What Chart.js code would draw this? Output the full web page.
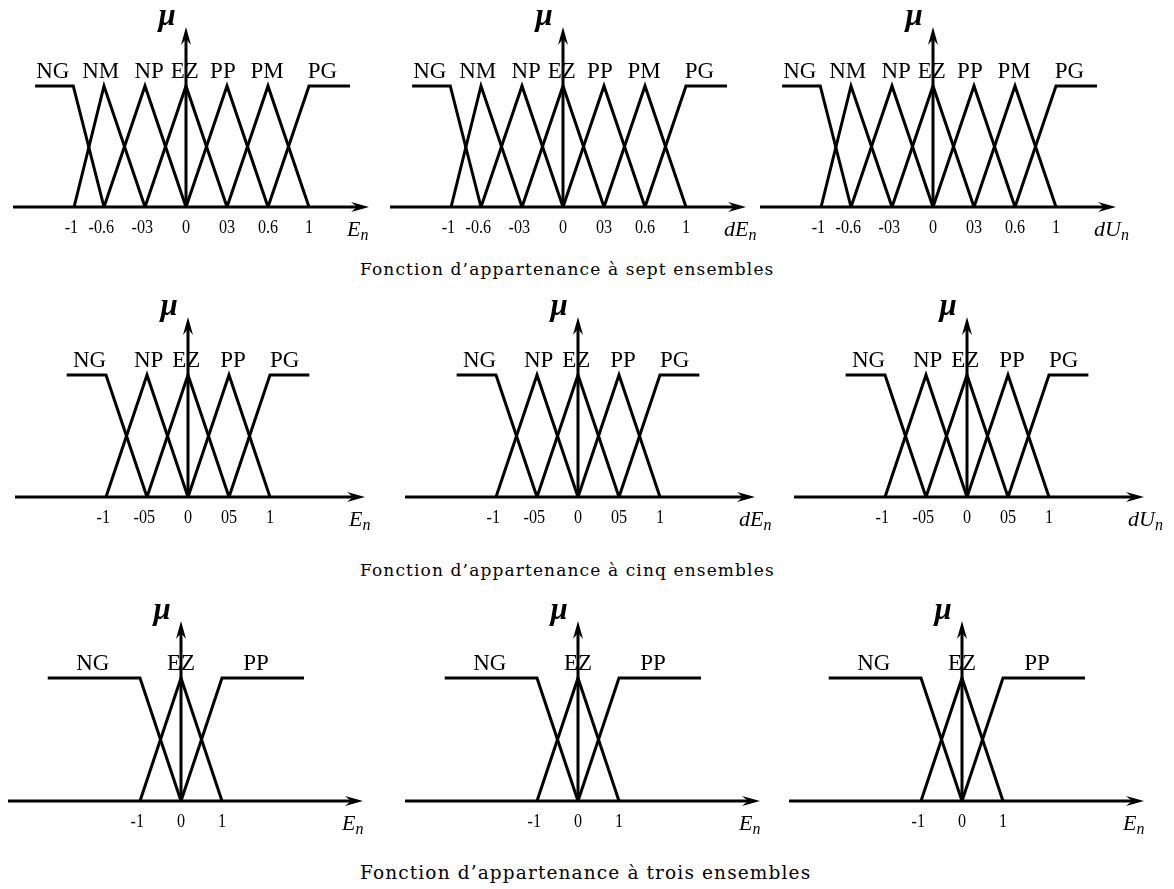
<!DOCTYPE html>
<html lang="fr">
<head>
  <meta charset="UTF-8">
  <title>Fonctions d'appartenance</title>
  <script src="https://cdn.jsdelivr.net/npm/chart.js"></script>
  <style>
    body { margin: 0; background: #fff; width: 1174px; height: 889px; overflow: hidden; position: relative; }
    canvas { position: absolute; }
    .caption { position: absolute; left: 360px; font-family: "DejaVu Serif", serif; font-size: 17px; line-height: 17px; letter-spacing: 1.13px; color: #000; white-space: nowrap; }
  </style>
</head>
<body>
  <div class="caption" style="top:261px">Fonction d’appartenance à sept ensembles</div>
  <div class="caption" style="top:562px">Fonction d’appartenance à cinq ensembles</div>
  <div class="caption" style="top:864px; font-size:18.5px; line-height:18.5px">Fonction d’appartenance à trois ensembles</div>

  <script>
    // sept ensembles (x en pas de graduation : -1 -0.6 -03 0 03 0.6 1)
    const names7 = ['NG', 'NM', 'NP', 'EZ', 'PP', 'PM', 'PG'];
    const labelPos7 = [-3.25, -2.08, -0.9, -0.03, 0.9, 1.98, 3.33];
    const ticks7 = [-2.73, -2, -1, 0, 1, 2, 3];
    const tickText7 = ['-1', '-0.6', '-03', '0', '03', '0.6', '1'];
    const ng7 = [[-3.68, 1], [-2.75, 1], [-2, 0]];
    const nm7 = [[-2.73, 0], [-2, 1], [-1, 0]];
    const np7 = [[-2, 0], [-1, 1], [0, 0]];
    const ez7 = [[-1, 0], [0, 1], [1, 0]];
    const pp7 = [[0, 0], [1, 1], [2, 0]];
    const pm7 = [[1, 0], [2, 1], [3, 0]];
    const pg7 = [[2, 0], [3, 1], [4, 1]];

    // cinq ensembles
    const names5 = ['NG', 'NP', 'EZ', 'PP', 'PG'];
    const labelPos5 = [-1.2, -0.48, -0.02, 0.55, 1.18];
    const ticks5 = [-1, -0.5, 0, 0.5, 1];
    const tickText5 = ['-1', '-05', '0', '05', '1'];
    const ng5 = [[-1.48, 1], [-1, 1], [-0.5, 0]];
    const np5 = [[-1, 0], [-0.5, 1], [0, 0]];
    const ez5 = [[-0.5, 0], [0, 1], [0.5, 0]];
    const pp5 = [[0, 0], [0.5, 1], [1, 0]];
    const pg5 = [[0.5, 0], [1, 1], [1.48, 1]];

    // trois ensembles
    const names3 = ['NG', 'EZ', 'PP'];
    const labelPos3 = [-2.15, 0, 1.83];
    const ticks3 = [-1, 0, 1];
    const tickText3 = ['-1', '0', '1'];
    const ng3 = [[-3.25, 1], [-1, 1], [0, 0]];
    const ez3 = [[-1, 0], [0, 1], [1, 0]];
    const pp3 = [[0, 0], [1, 1], [3, 1]];

    const varsTop = [['', 'E'], ['d', 'E'], ['d', 'U']];
    const varsMid = [['', 'E'], ['d', 'E'], ['d', 'U']];
    const varsBot = [['', 'E'], ['', 'E'], ['', 'E']];

    const rows = [
      { sets: [ng7, nm7, np7, ez7, pp7, pm7, pg7], names: names7, labelPos: labelPos7, ticks: ticks7, tickText: tickText7, vars: varsTop,
        axisY: 207, axisX: [186, 563, 933], ux: 41, uy: 121, tip: 183 },
      { sets: [ng5, np5, ez5, pp5, pg5], names: names5, labelPos: labelPos5, ticks: ticks5, tickText: tickText5, vars: varsMid,
        axisY: 497, axisX: [188, 578, 967], ux: 82, uy: 122, tip: 177 },
      { sets: [ng3, ez3, pp3], names: names3, labelPos: labelPos3, ticks: ticks3, tickText: tickText3, vars: varsBot,
        axisY: 801, axisX: [181, 578, 962], ux: 41, uy: 123, tip: 182 }
    ];

    const W = 395, H = 250, LEFT = 180, ABOVE = 205, BELOW = 45;

    const drawArrow = (ctx, x, y, dir) => {
      ctx.beginPath();
      if (dir === 'right') {
        ctx.moveTo(x, y); ctx.lineTo(x - 18, y - 5); ctx.lineTo(x - 12, y); ctx.lineTo(x - 18, y + 5);
      } else {
        ctx.moveTo(x, y); ctx.lineTo(x - 5, y + 18); ctx.lineTo(x, y + 12); ctx.lineTo(x + 5, y + 18);
      }
      ctx.closePath();
      ctx.fill();
    };

    const fuzzyAxes = {
      id: 'fuzzyAxes',
      afterDatasetsDraw(chart, args, o) {
        const ctx = chart.ctx;
        const xs = chart.scales.x, ys = chart.scales.y;
        const x0 = xs.getPixelForValue(0), y0 = ys.getPixelForValue(0), y1 = ys.getPixelForValue(1);
        ctx.save();
        ctx.strokeStyle = '#000';
        ctx.fillStyle = '#000';
        ctx.lineWidth = 3;

        // axe des abscisses
        ctx.beginPath();
        ctx.moveTo(x0 - 173, y0);
        ctx.lineTo(x0 + o.tip - 10, y0);
        ctx.stroke();
        drawArrow(ctx, x0 + o.tip, y0, 'right');

        // axe mu
        ctx.beginPath();
        ctx.moveTo(x0, y0);
        ctx.lineTo(x0, y0 - 170);
        ctx.stroke();
        drawArrow(ctx, x0, y0 - 180, 'up');

        // graduations
        ctx.font = '19px "Liberation Serif"';
        ctx.textAlign = 'center';
        ctx.textBaseline = 'alphabetic';
        const minus = ctx.measureText('-').width;
        o.ticks.forEach((t, i) => {
          const txt = o.tickText[i];
          ctx.save();
          ctx.translate(xs.getPixelForValue(t), y0 + 26);
          ctx.scale(0.85, 1);
          ctx.fillText(txt, txt.startsWith('-') ? -minus / 2 : 0, 0);
          ctx.restore();
        });

        // noms des ensembles
        ctx.font = '23px "Liberation Serif"';
        o.names.forEach((n, i) => ctx.fillText(n, xs.getPixelForValue(o.labelPos[i]), y1 - 8));

        // mu
        ctx.font = 'bold italic 31px "Liberation Serif"';
        ctx.fillText('\u03BC', x0 - 19, y0 - 182);

        // variable
        ctx.textAlign = 'left';
        ctx.font = 'italic 22px "Liberation Serif"';
        const main = o.variable[0] + o.variable[1];
        const xv = x0 + 161;
        ctx.fillText(main, xv, y0 + 29);
        const wMain = ctx.measureText(main).width;
        ctx.font = 'italic 16px "Liberation Serif"';
        ctx.fillText('n', xv + wMain, y0 + 33);
        ctx.restore();
      }
    };

    rows.forEach(row => {
      row.axisX.forEach((ax, k) => {
        const canvas = document.createElement('canvas');
        canvas.width = W;
        canvas.height = H;
        canvas.style.left = (ax - LEFT) + 'px';
        canvas.style.top = (row.axisY - ABOVE) + 'px';
        document.body.appendChild(canvas);

        new Chart(canvas, {
          type: 'scatter',
          data: {
            datasets: row.sets.map(pts => ({
              data: pts.map(([x, y]) => ({ x, y })),
              showLine: true,
              borderColor: '#000',
              borderWidth: 3,
              pointRadius: 0,
              tension: 0,
              fill: false,
              clip: false
            }))
          },
          options: {
            responsive: false,
            animation: false,
            events: [],
            layout: { padding: { left: 0, right: 0, top: 0, bottom: BELOW } },
            scales: {
              x: { type: 'linear', display: false, min: -LEFT / row.ux, max: (W - LEFT) / row.ux },
              y: { type: 'linear', display: false, min: 0, max: ABOVE / row.uy }
            },
            plugins: {
              legend: { display: false },
              tooltip: { enabled: false },
              fuzzyAxes: {
                tip: row.tip,
                ticks: row.ticks,
                tickText: row.tickText,
                names: row.names,
                labelPos: row.labelPos,
                variable: row.vars[k]
              }
            }
          },
          plugins: [fuzzyAxes]
        });
      });
    });
  </script>
</body>
</html>
